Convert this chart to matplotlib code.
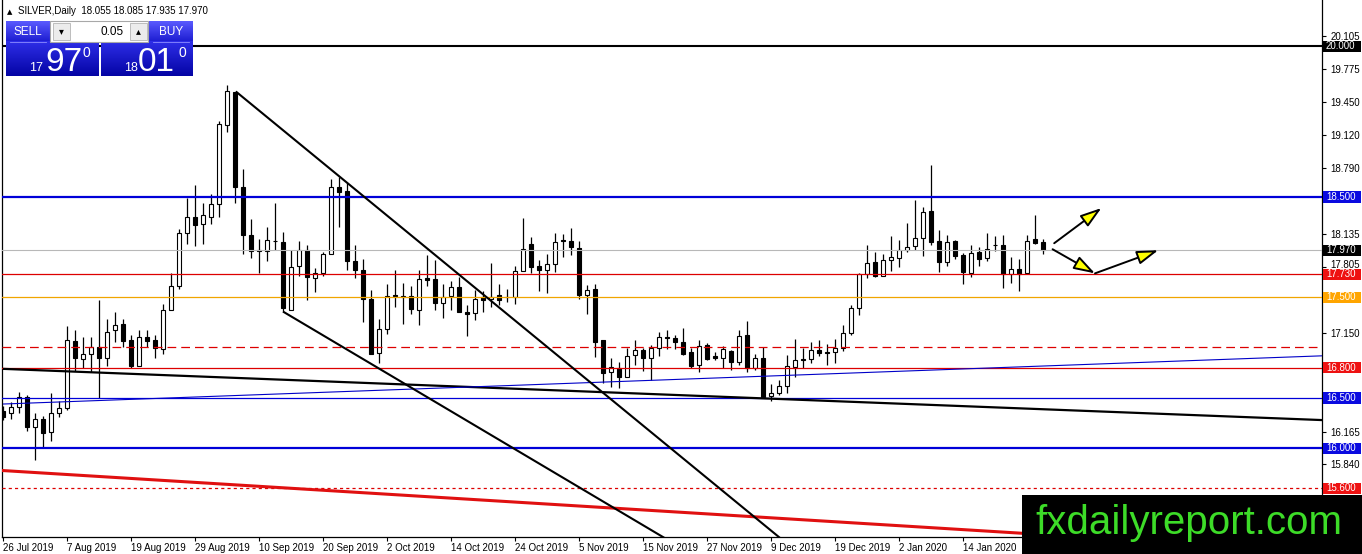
import matplotlib
matplotlib.use('Agg')
import matplotlib.pyplot as plt
import matplotlib.transforms as mtransforms
from matplotlib.patches import Rectangle
from matplotlib.colors import LinearSegmentedColormap
import numpy as np

plt.rcParams['font.family'] = ['Liberation Sans', 'DejaVu Sans']

# daily SILVER candles, 26 Jul 2019 .. 28 Jan 2020 (one entry per trading day)
opens = [16.37, 16.35, 16.41, 16.51, 16.21, 16.29, 16.16, 16.35, 16.40, 17.07,
         16.89, 16.94, 17.01, 16.90, 17.18, 17.24, 17.08, 16.82, 17.11, 17.08,
         16.99, 17.38, 17.61, 18.14, 18.30, 18.23, 18.30, 18.43, 19.22, 19.54,
         18.60, 18.12, 17.97, 17.96, 18.06, 18.05, 17.38, 17.81, 17.97, 17.69,
         17.74, 17.93, 18.60, 18.56, 17.86, 17.77, 17.49, 16.95, 17.19, 17.52,
         17.50, 17.51, 17.38, 17.69, 17.68, 17.45, 17.51, 17.60, 17.36, 17.35,
         17.50, 17.49, 17.52, 17.50, 17.50, 17.76, 18.03, 17.81, 17.77, 17.83,
         18.07, 18.06, 17.99, 17.52, 17.58, 17.08, 16.76, 16.80, 16.71, 16.93,
         16.98, 16.90, 17.00, 17.11, 17.10, 17.06, 16.96, 16.83, 17.03, 16.92,
         16.90, 16.97, 16.86, 17.13, 16.80, 16.90, 16.52, 16.55, 16.62, 16.81,
         16.89, 16.89, 16.98, 16.96, 16.96, 17.00, 17.15, 17.40, 17.73, 17.85,
         17.71, 17.87, 17.89, 17.97, 18.01, 18.09, 18.36, 18.06, 17.85, 18.06,
         17.92, 17.74, 17.95, 17.89, 18.02, 18.02, 17.73, 17.78, 17.74, 18.08,
         18.055]
highs = [16.42, 16.46, 16.56, 16.53, 16.35, 16.32, 16.55, 16.47, 17.22, 17.18,
         17.11, 17.11, 17.48, 17.29, 17.36, 17.29, 17.13, 17.18, 17.18, 17.13,
         17.44, 17.74, 18.18, 18.49, 18.62, 18.44, 18.53, 19.26, 19.61, 19.54,
         18.78, 18.28, 18.08, 18.20, 18.44, 18.15, 17.97, 18.06, 18.02, 17.79,
         17.95, 18.68, 18.70, 18.64, 18.02, 17.88, 17.57, 17.29, 17.63, 17.77,
         17.64, 17.61, 17.77, 17.92, 17.87, 17.63, 17.66, 17.70, 17.43, 17.57,
         17.56, 17.84, 17.63, 17.58, 17.81, 18.29, 18.10, 17.87, 17.93, 18.14,
         18.13, 18.19, 18.06, 17.62, 17.63, 17.08, 16.90, 16.86, 17.00, 17.08,
         17.00, 17.03, 17.16, 17.18, 17.13, 17.20, 17.00, 17.08, 17.05, 16.96,
         17.02, 16.98, 17.18, 17.27, 16.94, 17.01, 16.64, 16.68, 16.93, 17.09,
         17.00, 17.06, 17.08, 17.04, 17.09, 17.23, 17.43, 17.74, 18.02, 17.95,
         17.93, 18.11, 18.07, 18.24, 18.47, 18.40, 18.82, 18.17, 18.12, 18.07,
         17.94, 18.02, 18.00, 18.14, 18.11, 18.12, 17.90, 17.88, 18.12, 18.32,
         18.085]
lows = [16.28, 16.29, 16.35, 16.17, 15.88, 16.00, 16.07, 16.31, 16.38, 16.77,
        16.80, 16.76, 16.50, 16.82, 17.06, 17.01, 16.80, 16.82, 17.01, 16.90,
        16.94, 17.38, 17.58, 18.03, 18.01, 18.03, 18.23, 18.30, 19.15, 18.44,
        17.93, 17.89, 17.74, 17.86, 17.97, 17.36, 17.38, 17.71, 17.48, 17.55,
        17.71, 17.93, 18.20, 17.77, 17.69, 17.26, 16.94, 16.85, 17.14, 17.41,
        17.24, 17.34, 17.23, 17.61, 17.38, 17.30, 17.38, 17.36, 17.12, 17.28,
        17.36, 17.41, 17.43, 17.46, 17.44, 17.76, 17.74, 17.56, 17.54, 17.75,
        17.90, 17.92, 17.49, 17.34, 16.91, 16.65, 16.61, 16.60, 16.71, 16.83,
        16.77, 16.68, 16.92, 16.99, 16.99, 16.93, 16.80, 16.76, 16.88, 16.88,
        16.80, 16.78, 16.83, 16.76, 16.78, 16.51, 16.47, 16.53, 16.55, 16.71,
        16.80, 16.85, 16.92, 16.83, 16.85, 16.97, 17.13, 17.33, 17.69, 17.70,
        17.71, 17.76, 17.80, 17.95, 17.97, 17.91, 18.02, 17.75, 17.81, 17.88,
        17.63, 17.70, 17.81, 17.86, 17.96, 17.59, 17.64, 17.56, 17.73, 18.03,
        17.935]
closes = [16.31, 16.41, 16.51, 16.21, 16.29, 16.15, 16.35, 16.40, 17.08, 16.90,
          16.94, 17.01, 16.90, 17.16, 17.23, 17.07, 16.82, 17.11, 17.07, 17.00,
          17.38, 17.61, 18.14, 18.30, 18.22, 18.32, 18.43, 19.23, 19.55, 18.60,
          18.12, 17.96, 17.96, 18.07, 18.06, 17.40, 17.80, 17.97, 17.70, 17.74,
          17.93, 18.60, 18.55, 17.86, 17.77, 17.49, 16.94, 17.19, 17.51, 17.51,
          17.51, 17.39, 17.68, 17.67, 17.45, 17.50, 17.60, 17.36, 17.34, 17.49,
          17.48, 17.50, 17.48, 17.50, 17.76, 17.98, 17.80, 17.77, 17.83, 18.05,
          18.06, 18.00, 17.52, 17.57, 17.06, 16.75, 16.81, 16.71, 16.92, 16.98,
          16.90, 17.00, 17.11, 17.10, 17.06, 16.94, 16.82, 17.02, 16.89, 16.90,
          16.99, 16.86, 17.12, 16.80, 16.90, 16.51, 16.55, 16.62, 16.82, 16.88,
          16.88, 16.98, 16.95, 16.95, 17.00, 17.15, 17.40, 17.73, 17.84, 17.71,
          17.87, 17.90, 17.97, 18.00, 18.09, 18.35, 18.05, 17.85, 18.05, 17.91,
          17.75, 17.94, 17.88, 17.98, 18.02, 17.73, 17.78, 17.73, 18.06, 18.04,
          17.97]

date_labels = ['26 Jul 2019', '7 Aug 2019', '19 Aug 2019', '29 Aug 2019',
               '10 Sep 2019', '20 Sep 2019', '2 Oct 2019', '14 Oct 2019',
               '24 Oct 2019', '5 Nov 2019', '15 Nov 2019', '27 Nov 2019',
               '9 Dec 2019', '19 Dec 2019', '2 Jan 2020', '14 Jan 2020']
date_bars = list(range(0, 121, 8))

price_ticks = [20.105, 19.775, 19.450, 19.120, 18.790, 18.460, 18.135, 17.805,
               17.475, 17.150, 16.820, 16.490, 16.165, 15.840, 15.510]
# scale labels that sit under a coloured price tag
hidden_ticks = [18.460, 17.475, 16.820, 16.490, 15.510]

# horizontal levels
level_prices = [20.000, 18.500, 17.970, 17.730, 17.500, 17.007, 16.800, 16.500, 16.000, 15.600]
level_colors = ['black', '#0000d8', '#b8b8b8', '#dd0000', '#f0a500', '#dd0000',
                '#dd0000', '#0000d8', '#0000d8', '#dd0000']
level_widths = [1.5, 1.6, 0.8, 0.9, 0.9, 0.9, 0.9, 0.9, 1.6, 0.9]
level_styles = ['-', '-', '-', '-', '-', (0, (7, 4)), '-', '-', '-', (0, (2.5, 2.5))]

# coloured price tags on the right scale
tag_prices = [20.000, 18.500, 17.970, 17.730, 17.500, 16.800, 16.500, 16.000, 15.600]
tag_colors = ['black', '#0a0ae0', 'black', '#ee1111', '#ffa500', '#ee1111',
              '#0a0ae0', '#0a0ae0', '#ee1111']

# trend lines: (bar, price) end points
trend_bars = [(0, 165), (0, 165), (-0.4, 165), (29.1, 100), (35, 100)]
trend_prices = [(16.79, 16.28), (16.44, 16.92), (15.78, 14.97), (19.55, 14.92), (17.36, 14.29)]
trend_colors = ['black', '#0000c8', '#e01010', 'black', 'black']
trend_widths = [1.6, 0.8, 2.2, 1.5, 1.5]

# yellow arrows
arrow_from = [(131.4, 18.04), (131.2, 17.98), (136.5, 17.74)]
arrow_to = [(137.3, 18.39), (136.5, 17.74), (144.4, 17.97)]

W, H = 1362, 554
fig = plt.figure(figsize=(W / 100, H / 100), dpi=100)
ax = fig.add_axes([2 / W, (H - 537) / H, 1320 / W, 537 / H])
ax.set_xlim(-0.125, 164.875)
ax.set_ylim(15.117, 20.460)

x = np.arange(len(opens))
o = np.array(opens)
c = np.array(closes)
up = c >= o
ax.vlines(x, lows, highs, color='black', lw=0.9, zorder=2)
ax.bar(x, np.maximum(np.abs(c - o), 0.006), bottom=np.minimum(o, c), width=0.62,
       color=np.where(up, 'white', 'black'), edgecolor='black', linewidth=0.8, zorder=3)

for p, col, lw, ls in zip(level_prices, level_colors, level_widths, level_styles):
    ax.axhline(p, color=col, lw=lw, ls=ls, zorder=4)

for bx, py, col, lw in zip(trend_bars, trend_prices, trend_colors, trend_widths):
    ax.plot(bx, py, color=col, lw=lw, zorder=4, solid_capstyle='butt')

for a, b in zip(arrow_from, arrow_to):
    ax.annotate('', xy=b, xytext=a,
                arrowprops=dict(arrowstyle='-|>,head_length=1.3,head_width=0.42',
                                fc='#ffff00', ec='black', lw=1.4,
                                shrinkA=0, shrinkB=0, mutation_scale=10),
                zorder=6)

# axes styling
ax.yaxis.tick_right()
ax.set_yticks(price_ticks)
ax.set_yticklabels(['' if t in hidden_ticks else '%.3f' % t for t in price_ticks])
ax.tick_params(axis='y', direction='out', length=3, width=0.8, pad=3, labelsize=7)
# 17.805 sits just above the 17.730 tag, lift it a little
lift = mtransforms.ScaledTranslation(0, 3 / 100, fig.dpi_scale_trans)
for lbl in ax.get_yticklabels():
    if lbl.get_text() == '17.805':
        lbl.set_transform(lbl.get_transform() + lift)
ax.set_xticks(date_bars)
ax.set_xticklabels(date_labels)
for lbl in ax.get_xticklabels():
    lbl.set_ha('left')
ax.tick_params(axis='x', direction='out', length=3, width=0.8, pad=1, labelsize=7)
ax.spines['top'].set_visible(False)
for s in ['left', 'right', 'bottom']:
    ax.spines[s].set_linewidth(0.9)

trans = mtransforms.blended_transform_factory(ax.transAxes, ax.transData)
for p, col in zip(tag_prices, tag_colors):
    ax.add_patch(Rectangle((1 + 1 / 1320, p - 0.055), 38 / 1320, 0.11, transform=trans,
                           fc=col, ec='none', clip_on=False, zorder=7))
    ax.text(1 + 4 / 1320, p, '%.3f' % p, transform=trans, color='white', fontsize=7,
            va='center', ha='left', zorder=8, clip_on=False)

# overlay in pixel units: trade panel, header and watermark
ov = fig.add_axes([0, 0, 1, 1], zorder=10)
ov.patch.set_alpha(0)


def grad_box(x0, y0, x1, y1, top, bottom):
    cm = LinearSegmentedColormap.from_list('g', [top, bottom])
    ov.imshow(np.linspace(0, 1, 64).reshape(-1, 1), extent=[x0, x1, y1, y0], cmap=cm,
              aspect='auto', interpolation='bilinear', zorder=1)


grad_box(6, 20.7, 49.3, 41.7, '#5a5aff', '#1c1cd0')
grad_box(149.3, 20.7, 192.7, 41.7, '#5a5aff', '#1c1cd0')
grad_box(6, 41.7, 98.7, 76, '#2e2ee8', '#0404a4')
grad_box(101, 41.7, 192.7, 76, '#2e2ee8', '#0404a4')
ov.plot([10, 46], [41.5, 41.5], color='#8c8cff', lw=0.6, zorder=2)
ov.plot([153, 189], [41.5, 41.5], color='#8c8cff', lw=0.6, zorder=2)
ov.add_patch(Rectangle((50, 20.7), 98.3, 21, fc='white', ec='#a8a8a8', lw=0.8, zorder=2))
ov.add_patch(Rectangle((52.5, 22.5), 17, 17.5, fc='#ececec', ec='#b4b4b4', lw=0.6, zorder=3))
ov.add_patch(Rectangle((129.5, 22.5), 17, 17.5, fc='#ececec', ec='#b4b4b4', lw=0.6, zorder=3))
ov.text(61, 31, '\u25be', fontsize=7, ha='center', va='center', family=['DejaVu Sans'], zorder=4)
ov.text(138, 31, '\u25b4', fontsize=7, ha='center', va='center', family=['DejaVu Sans'], zorder=4)
ov.text(124, 35, '0.05', fontsize=8.5, ha='right', va='baseline', zorder=4)
ov.text(27.5, 35, 'SELL', fontsize=8.5, color='white', ha='center', va='baseline', zorder=4)
ov.text(171, 35, 'BUY', fontsize=8.5, color='white', ha='center', va='baseline', zorder=4)
ov.text(36, 70.7, '17', fontsize=9, color='white', ha='center', va='baseline', zorder=4)
ov.text(64.3, 70.7, '97', fontsize=24, color='white', ha='center', va='baseline', zorder=4)
ov.text(86, 56.7, '0', fontsize=10, color='white', ha='center', va='baseline', zorder=4)
ov.text(131, 70.7, '18', fontsize=9, color='white', ha='center', va='baseline', zorder=4)
ov.text(156.7, 70.7, '01', fontsize=24, color='white', ha='center', va='baseline', zorder=4)
ov.text(182, 56.7, '0', fontsize=10, color='white', ha='center', va='baseline', zorder=4)

ov.text(7, 14, '\u25b2', fontsize=5, ha='left', va='baseline', family=['DejaVu Sans'])
ov.text(18, 14, 'SILVER,Daily  18.055 18.085 17.935 17.970', fontsize=7,
        ha='left', va='baseline')

ov.add_patch(Rectangle((1022, 495), 340, 59, fc='black', ec='none', zorder=5))
ov.text(1189, 534, 'fxdailyreport.com', fontsize=29, color='#3ddc28', ha='center',
        va='baseline', zorder=6)

ov.set_xlim(0, W)
ov.set_ylim(H, 0)
ov.axis('off')

fig.savefig('out.png', dpi=100)
